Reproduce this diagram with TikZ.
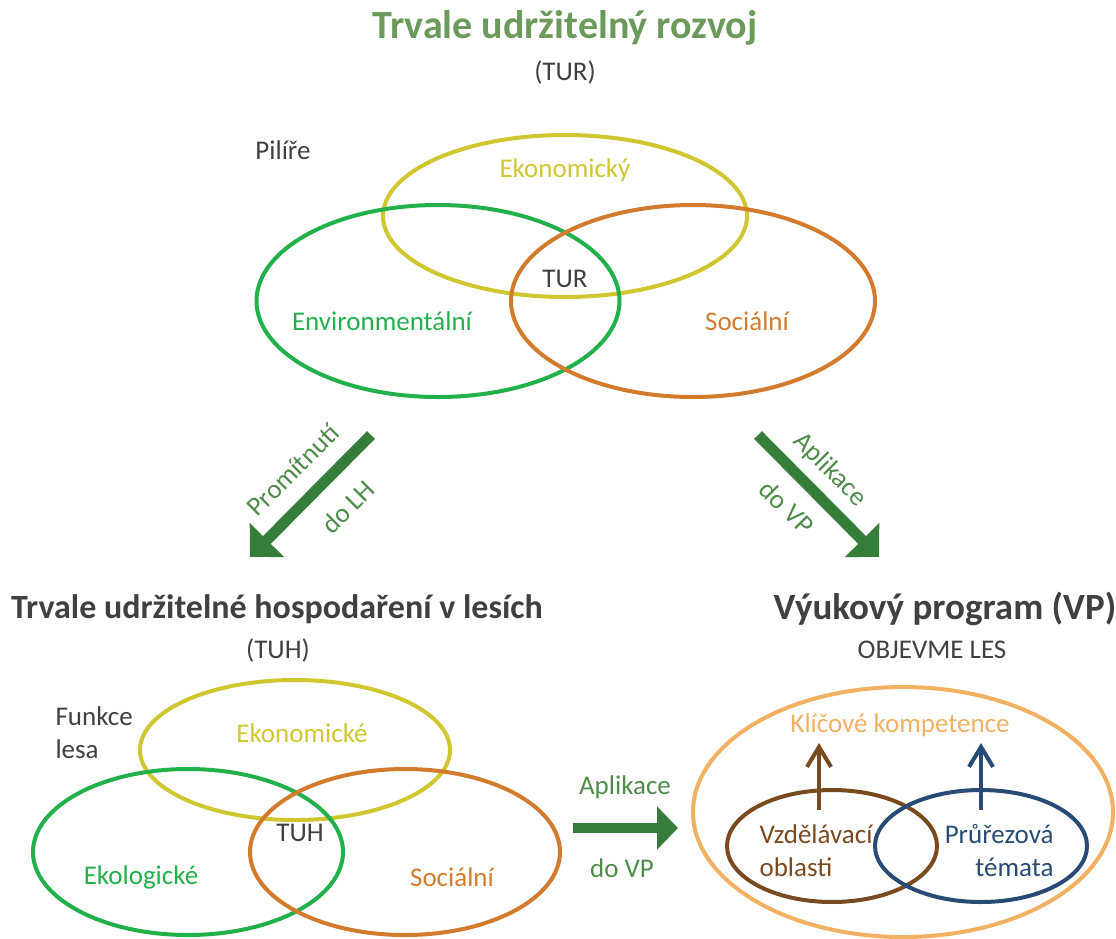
\documentclass[tikz,border=0pt]{standalone}
\usepackage{fontspec}
\setmainfont{Carlito}
\usepackage{tikz}
\usetikzlibrary{positioning,arrows.meta,shapes}
\definecolor{titlegreen}{HTML}{6B9A5B}
\definecolor{textgray}{HTML}{404040}
\definecolor{ecoyellow}{HTML}{D0C62F}
\definecolor{envgreen}{HTML}{22B04B}
\definecolor{socorange}{HTML}{D27B2D}
\definecolor{arrowgreen}{HTML}{377D3A}
\definecolor{labelgreen}{HTML}{4F8C4A}
\definecolor{vporange}{HTML}{F2B062}
\definecolor{vzdbrown}{HTML}{7A4A1F}
\definecolor{prublue}{HTML}{274B74}
\tikzset{
  lbl/.style={font=\fontsize{27}{33}\selectfont},
  ttl/.style={font=\fontsize{#1}{44}\selectfont\bfseries},
  pillar/.style={draw, ellipse, line width=4pt, inner sep=0pt},
  bigarrow/.style={draw=arrowgreen, line width=11pt, -{Triangle[width=47pt,length=24pt]}},
  smallarrow/.style={line width=4pt, -{Straight Barb[length=20pt,width=24pt]}},
}

\begin{document}
\begin{tikzpicture}[x=1pt,y=-1pt]
    \useasboundingbox (0,0) rectangle (1116,938);

    % Top: pillars of TUR
    \node[ttl=40, titlegreen] (turtitle) at (565,28) {Trvale udržitelný rozvoj};
    \node[lbl, textgray] (turabbr) at (565,72) {(TUR)};
    \node[lbl, textgray] (pilire) at (283,150) {Pilíře};

    \node[pillar, ecoyellow, minimum width=364pt, minimum height=162pt] (eko) at (565,216) {};
    \node[pillar, envgreen, minimum width=363pt, minimum height=192pt] (env) at (438,301) {};
    \node[pillar, socorange, minimum width=364pt, minimum height=192pt] (soc) at (693,301) {};

    \node[lbl, ecoyellow] (ekolbl) at (565,170) {Ekonomický};
    \node[lbl, envgreen] (envlbl) at (382,321) {Environmentální};
    \node[lbl, socorange] (soclbl) at (747,321) {Sociální};
    \node[lbl, textgray] (tur) at (565,279) {TUR};

    % Arrows down
    \coordinate (lhstart) at (371,435);
    \coordinate (lhend) at (250,557);
    \coordinate (vpstart) at (758,435);
    \coordinate (vpend) at (879,557);
    \draw[bigarrow] (lhstart) -- (lhend);
    \draw[bigarrow] (vpstart) -- (vpend);

    \node[lbl, labelgreen, rotate=45] (promit) at (293,470) {Promítnutí};
    \node[lbl, labelgreen, rotate=45] (dolh) at (348,507) {do LH};
    \node[lbl, labelgreen, rotate=-45] (aplik) at (830,470) {Aplikace};
    \node[lbl, labelgreen, rotate=-45] (dovp) at (787,507) {do VP};

    % Bottom left: TUH
    \node[ttl=34, textgray] (tuhtitle) at (277,609) {Trvale udržitelné hospodaření v lesích};
    \node[lbl, textgray] (tuhabbr) at (278,650) {(TUH)};
    \node[lbl, textgray, align=left, anchor=west] (funkce) at (52,733) {Funkce\\lesa};

    \node[pillar, ecoyellow, minimum width=310pt, minimum height=140pt] (eko2) at (295,750) {};
    \node[pillar, envgreen, minimum width=310pt, minimum height=166pt] (ekol) at (188,852) {};
    \node[pillar, socorange, minimum width=310pt, minimum height=166pt] (soc2) at (405,852) {};

    \node[lbl, ecoyellow] (eko2lbl) at (302,733) {Ekonomické};
    \node[lbl, envgreen] (ekollbl) at (141,877) {Ekologické};
    \node[lbl, socorange] (soc2lbl) at (452,877) {Sociální};
    \node[lbl, textgray] (tuh) at (300,833) {TUH};

    % Arrow to VP
    \coordinate (apstart) at (573,828);
    \coordinate (apend) at (678,828);
    \draw[draw=arrowgreen, line width=10pt, -{Triangle[width=42pt,length=21pt]}] (apstart) -- (apend);
    \node[lbl, labelgreen] (aplik2) at (625,787) {Aplikace};
    \node[lbl, labelgreen] (dovp2) at (622,868) {do VP};

    % Bottom right: VP
    \node[ttl=37, textgray] (vptitle) at (945,609) {Výukový program (VP)};
    \node[lbl, textgray] (objevme) at (932,650) {OBJEVME LES};

    \node[pillar, vporange, minimum width=420pt, minimum height=250pt] (vp) at (903,812) {};
    \node[lbl, vporange] (klic) at (900,725) {Klíčové kompetence};
    \node[pillar, vzdbrown, minimum width=210pt, minimum height=112pt] (vzd) at (832,846) {};
    \node[pillar, prublue, minimum width=212pt, minimum height=112pt] (pru) at (981,846) {};
    \node[lbl, vzdbrown, align=left, anchor=west] (vzdlbl) at (756,851) {Vzdělávací\\oblasti};
    \node[lbl, prublue, align=right, anchor=east] (prulbl) at (1057,851) {Průřezová\\témata};

    \coordinate (vzdup) at (819,810);
    \coordinate (vzdtop) at (819,743);
    \coordinate (pruup) at (981,810);
    \coordinate (prutop) at (981,743);
    \draw[smallarrow, vzdbrown] (vzdup) -- (vzdtop);
    \draw[smallarrow, prublue] (pruup) -- (prutop);
\end{tikzpicture}
\end{document}
